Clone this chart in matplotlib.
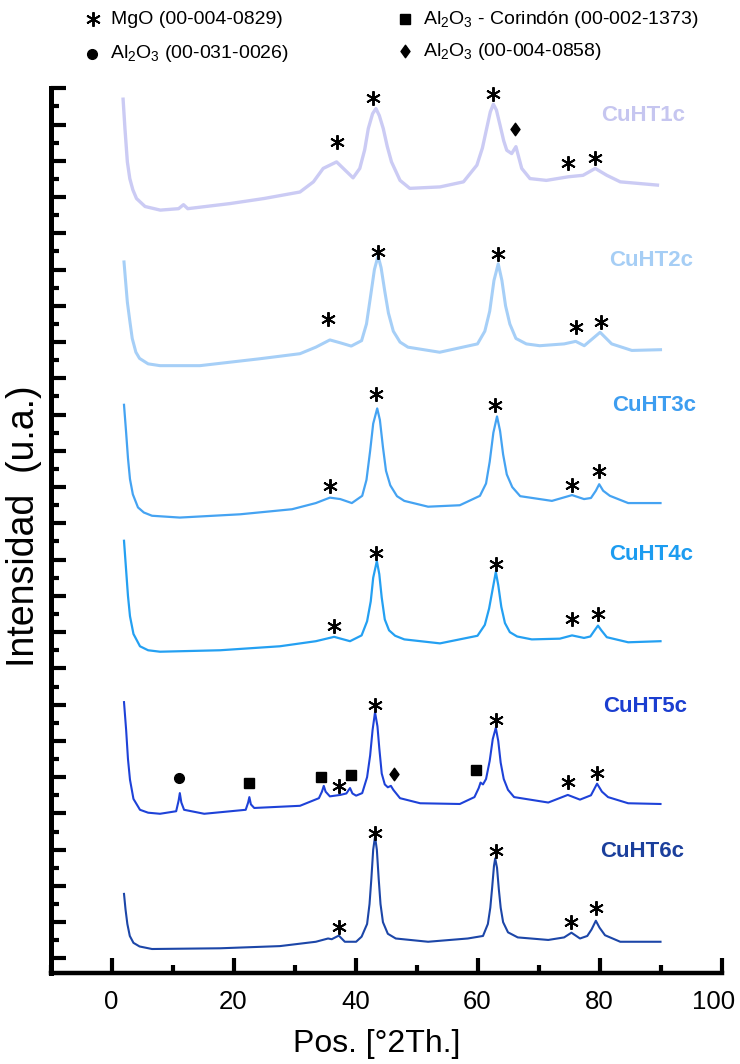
import matplotlib
matplotlib.use("Agg")
import matplotlib.pyplot as plt
from matplotlib.lines import Line2D
from matplotlib.path import Path
from matplotlib.ticker import FuncFormatter, MultipleLocator

plt.rcParams["font.family"] = ["Liberation Sans", "DejaVu Sans"]
plt.rcParams["mathtext.default"] = "regular"

# --- data (2theta, offset intensity) ---
samples = ["CuHT1c", "CuHT2c", "CuHT3c", "CuHT4c", "CuHT5c", "CuHT6c"]

x1 = [1.9, 2.2, 2.6, 3.0, 3.5, 4.1, 5.5, 8.0, 11.0, 11.8, 12.5, 19.4, 25.0, 30.9, 33.1,
      34.7, 36.9, 38.0, 39.6, 40.7, 41.5, 42.1, 42.8, 43.35, 43.9, 44.55, 45.2, 45.9,
      47.3, 48.9, 53.85, 57.7, 59.9, 60.8, 61.5, 62.1, 62.6, 63.1, 63.7, 64.3, 64.8,
      65.6, 66.3, 67.25, 68.6, 71.3, 74.9, 77.3, 79.3, 81.2, 83.4, 89.5]
y1 = [23.70, 22.9, 21.97, 21.51, 21.2, 20.96, 20.74, 20.64, 20.68, 20.79, 20.68, 20.82,
      20.96, 21.14, 21.42, 21.79, 21.97, 21.79, 21.53, 21.79, 22.3, 22.89, 23.3, 23.44,
      23.25, 22.89, 22.4, 21.97, 21.46, 21.24, 21.28, 21.42, 21.88, 22.35, 22.89, 23.35,
      23.56, 23.4, 22.98, 22.55, 22.29, 22.2, 22.39, 21.79, 21.51, 21.46, 21.56, 21.6,
      21.79, 21.6, 21.42, 21.33]

x2 = [2.05, 2.3, 2.6, 3.03, 3.4, 4.0, 4.6, 6.0, 7.95, 14.5, 24.3, 30.9, 33.5, 35.8, 37.5,
      39.3, 41.0, 41.8, 42.5, 43.1, 43.7, 44.2, 44.8, 45.4, 46.2, 47.3, 48.6, 53.8, 60.0,
      61.2, 62.0, 62.7, 63.4, 64.0, 64.6, 65.3, 66.3, 68.0, 70.2, 74.2, 76.1, 77.5, 80.1,
      82.0, 85.3, 90.0]
y2 = [19.21, 18.7, 18.1, 17.55, 17.1, 16.72, 16.55, 16.4, 16.35, 16.35, 16.54, 16.68,
      16.86, 17.06, 16.98, 16.89, 17.04, 17.5, 18.3, 19.0, 19.38, 19.05, 18.4, 17.8, 17.3,
      17.0, 16.86, 16.72, 16.95, 17.3, 17.85, 18.7, 19.16, 18.7, 18.0, 17.5, 17.1, 16.95,
      16.9, 16.95, 17.02, 16.9, 17.27, 16.95, 16.77, 16.79]

x3 = [2.05, 2.4, 2.7, 3.03, 3.5, 4.34, 5.3, 6.64, 11.2, 21.07, 29.6, 33.5, 35.8, 37.5,
      39.4, 41.1, 41.8, 42.4, 42.9, 43.56, 44.0, 44.5, 45.0, 45.7, 46.8, 48.0, 51.9, 57.1,
      60.4, 61.4, 62.0, 62.6, 63.2, 63.7, 64.2, 64.8, 65.7, 67.0, 72.2, 75.5, 77.46, 78.6,
      79.4, 79.95, 80.6, 81.7, 84.7, 90.0]
y3 = [15.27, 14.5, 13.8, 13.22, 12.8, 12.44, 12.3, 12.21, 12.16, 12.25, 12.39, 12.56,
      12.71, 12.67, 12.56, 12.76, 13.2, 14.0, 14.75, 15.17, 14.85, 14.1, 13.45, 13.05,
      12.75, 12.62, 12.46, 12.5, 12.76, 13.1, 13.7, 14.5, 14.95, 14.55, 13.9, 13.35, 13.0,
      12.75, 12.62, 12.78, 12.67, 12.7, 12.9, 13.08, 12.9, 12.76, 12.56, 12.56]

x4 = [2.05, 2.4, 2.7, 3.03, 3.6, 4.67, 6.0, 7.95, 17.8, 27.6, 33.5, 36.5, 39.1, 41.0,
      41.9, 42.5, 42.9, 43.5, 43.9, 44.3, 44.8, 45.5, 46.5, 48.0, 53.85, 60.0, 61.2, 61.9,
      62.5, 63.0, 63.4, 63.9, 64.5, 65.3, 66.5, 68.9, 73.5, 75.5, 77.46, 78.5, 79.2, 79.75,
      80.3, 81.2, 84.7, 90.0]
y4 = [11.52, 10.7, 10.0, 9.44, 8.95, 8.61, 8.5, 8.46, 8.5, 8.61, 8.75, 8.87, 8.75, 8.91,
      9.3, 9.85, 10.5, 10.96, 10.6, 9.95, 9.35, 9.05, 8.9, 8.8, 8.69, 8.9, 9.2, 9.65, 10.2,
      10.66, 10.3, 9.7, 9.25, 9.0, 8.88, 8.8, 8.82, 8.91, 8.84, 8.88, 9.05, 9.18, 9.05,
      8.86, 8.72, 8.75]

x5 = [2.05, 2.4, 2.7, 3.03, 3.6, 4.67, 6.0, 7.95, 10.6, 11.0, 11.2, 11.45, 11.9, 15.2,
      22.0, 22.4, 22.6, 22.85, 23.4, 30.9, 34.0, 34.5, 34.8, 35.1, 35.8, 37.5, 38.5, 38.9,
      39.1, 39.5, 40.1, 41.1, 41.9, 42.4, 42.8, 43.2, 43.6, 43.9, 44.3, 44.8, 45.3, 45.8,
      46.2, 47.3, 50.6, 57.1, 59.5, 60.2, 60.5, 60.9, 61.4, 62.0, 62.5, 63.0, 63.4, 63.8,
      64.3, 65.0, 66.0, 71.6, 74.8, 76.8, 78.6, 79.6, 80.4, 81.4, 84.7, 90.0]
y5 = [7.07, 6.3, 5.5, 4.93, 4.4, 4.1, 4.02, 3.99, 4.06, 4.35, 4.56, 4.3, 4.1, 3.99, 4.1,
      4.3, 4.45, 4.25, 4.15, 4.21, 4.42, 4.6, 4.76, 4.6, 4.47, 4.51, 4.55, 4.65, 4.7, 4.55,
      4.49, 4.56, 5.0, 5.6, 6.3, 6.79, 6.4, 5.8, 5.1, 4.8, 4.72, 4.76, 4.65, 4.42, 4.28,
      4.26, 4.45, 4.7, 4.85, 4.8, 4.95, 5.45, 6.05, 6.36, 6.0, 5.4, 4.95, 4.65, 4.45, 4.3,
      4.51, 4.38, 4.5, 4.82, 4.6, 4.45, 4.28, 4.26]

x6 = [2.05, 2.3, 2.6, 3.0, 3.6, 4.6, 6.64, 17.8, 27.6, 33.5, 35.5, 36.1, 37.26, 38.25,
      40.1, 41.0, 41.9, 42.3, 42.6, 42.9, 43.2, 43.5, 43.8, 44.1, 44.5, 45.3, 46.6, 51.9,
      58.4, 60.9, 61.7, 62.1, 62.4, 62.7, 62.9, 63.2, 63.5, 63.8, 64.2, 65.0, 66.6, 71.6,
      74.2, 75.4, 76.8, 78.0, 78.7, 79.4, 80.0, 80.9, 83.4, 90.0]
y6 = [1.78, 1.35, 0.95, 0.62, 0.43, 0.33, 0.26, 0.28, 0.34, 0.46, 0.55, 0.53, 0.63, 0.46,
      0.46, 0.6, 0.95, 1.5, 2.2, 3.0, 3.36, 3.0, 2.2, 1.5, 1.0, 0.68, 0.55, 0.46, 0.55,
      0.62, 0.95, 1.4, 1.95, 2.55, 2.76, 2.5, 1.9, 1.4, 1.0, 0.72, 0.58, 0.51, 0.58, 0.71,
      0.55, 0.62, 0.8, 1.04, 0.85, 0.64, 0.46, 0.46]

# phase marks above peaks: (symbol, 2theta, height)
marks1 = [("*", 36.9, 22.53), ("*", 42.9, 23.72), ("*", 62.5, 23.83), ("D", 66.1, 22.87),
          ("*", 74.9, 21.93), ("*", 79.3, 22.07)]
marks2 = [("*", 35.5, 17.64), ("*", 43.7, 19.49), ("*", 63.4, 19.44), ("*", 76.1, 17.41),
          ("*", 80.2, 17.55)]
marks3 = [("*", 35.8, 13.03), ("*", 43.36, 15.57), ("*", 62.9, 15.27), ("*", 75.5, 13.05),
          ("*", 79.95, 13.45)]
marks4 = [("*", 36.5, 9.17), ("*", 43.4, 11.19), ("*", 63.0, 10.87), ("*", 75.5, 9.35),
          ("*", 79.7, 9.49)]
marks5 = [("o", 11.0, 4.97), ("s", 22.5, 4.85), ("s", 34.4, 5.0), ("*", 37.3, 4.76),
          ("s", 39.3, 5.05), ("*", 43.2, 7.0), ("D", 46.3, 5.09), ("s", 59.7, 5.19),
          ("*", 63.0, 6.57), ("*", 74.9, 4.88), ("*", 79.6, 5.11)]
marks6 = [("*", 37.3, 0.86), ("*", 43.2, 3.45), ("*", 63.0, 2.95), ("*", 75.4, 1.01),
          ("*", 79.4, 1.38)]

label_x = [87.2, 88.4, 88.9, 88.4, 87.5, 87.0]
label_y = [23.24, 19.25, 15.25, 11.15, 6.95, 2.95]

line_colors = ["#cbcbf4", "#a6cff7", "#45a3f2", "#24a0f2", "#1e42d8", "#1c46a8"]
label_colors = ["#c6c6f0", "#a6cef5", "#3d9df0", "#1c9cf0", "#1b3ed0", "#1b3f9c"]
line_widths = [2.4, 2.2, 1.6, 1.6, 1.5, 1.5]

legend_labels = ["MgO (00-004-0829)", r"Al$_2$O$_3$ (00-031-0026)",
                 r"Al$_2$O$_3$ - Corindón (00-002-1373)", r"Al$_2$O$_3$ (00-004-0858)"]
legend_symbols = ["*", "o", "s", "D"]

diamond = Path([(0, 1), (0.72, 0), (0, -1), (-0.72, 0), (0, 1)],
               [Path.MOVETO, Path.LINETO, Path.LINETO, Path.LINETO, Path.CLOSEPOLY])

MARKER_STYLE = {
    "*": dict(marker=(6, 2, 0), markersize=10.5, markeredgewidth=1.4),
    "o": dict(marker="o", markersize=7),
    "s": dict(marker="s", markersize=6.5),
    "D": dict(marker=diamond, markersize=9),
}

TICK_FS = 18.5


def draw_mark(target, sym, x, y):
    target.plot([x], [y], linestyle="none", color="black", markerfacecolor="black",
                markeredgecolor="black", clip_on=False, **MARKER_STYLE[sym])


fig = plt.figure(figsize=(7.4, 10.64), dpi=100)
ax = fig.add_axes([50.5 / 740, 1 - 973.3 / 1064, 671 / 740, 885 / 1064])

xs = [x1, x2, x3, x4, x5, x6]
ys = [y1, y2, y3, y4, y5, y6]
marks = [marks1, marks2, marks3, marks4, marks5, marks6]

for i, name in enumerate(samples):
    ax.plot(xs[i], ys[i], color=line_colors[i], lw=line_widths[i], solid_joinstyle="round")
    for sym, mx, my in marks[i]:
        draw_mark(ax, sym, mx, my)
    ax.text(label_x[i], label_y[i], name, color=label_colors[i], fontsize=16,
            fontweight="bold", ha="center", va="center")

ax.set_xlim(-10, 100)
ax.set_ylim(-0.41, 24.0)
ax.xaxis.set_major_locator(MultipleLocator(20))
ax.xaxis.set_minor_locator(MultipleLocator(10))
ax.yaxis.set_major_locator(MultipleLocator(1))
ax.yaxis.set_minor_locator(MultipleLocator(0.5))
# the "100" label is drawn separately, nudged left so it stays on the canvas
ax.xaxis.set_major_formatter(FuncFormatter(lambda v, _: "" if v >= 100 else f"{v:.0f}"))
ax.annotate("100", xy=(100, 0), xycoords=ax.get_xaxis_transform(), xytext=(-6, -12.3),
            textcoords="offset points", ha="center", va="top", fontsize=TICK_FS,
            annotation_clip=False)

for side in ["top", "right"]:
    ax.spines[side].set_visible(False)
ax.spines["left"].set_linewidth(3.6)
ax.spines["bottom"].set_linewidth(3.2)
for side in ["left", "bottom"]:
    ax.spines[side].set_capstyle("projecting")

ax.tick_params(axis="y", which="major", direction="in", length=11, width=3,
               labelleft=False)
ax.tick_params(axis="y", which="minor", direction="in", length=6, width=3)
ax.tick_params(axis="x", which="major", direction="in", length=11, width=3,
               labelsize=TICK_FS, pad=12)
ax.tick_params(axis="x", which="minor", direction="in", length=6, width=3)

fig.text(377 / 740, 1 - 1044 / 1064, "Pos. [°2Th.]", fontsize=23, ha="center",
         va="center")
fig.text(24 / 740, 1 - 526 / 1064, "Intensidad  (u.a.)", fontsize=27, rotation=90,
         ha="center", va="center")

# legend row above the axes (figure pixel layout)
leg_pos = [(93, 19), (92, 54), (405, 19), (405, 51)]
for (px, py), sym, lab in zip(leg_pos, legend_symbols, legend_labels):
    fig.add_artist(Line2D([px / 740], [1 - py / 1064], transform=fig.transFigure,
                          linestyle="none", color="black", markerfacecolor="black",
                          markeredgecolor="black", **MARKER_STYLE[sym]))
    fig.text((px + 18) / 740, 1 - py / 1064, lab, fontsize=14, ha="left", va="center")

fig.savefig("out.png", dpi=100)
